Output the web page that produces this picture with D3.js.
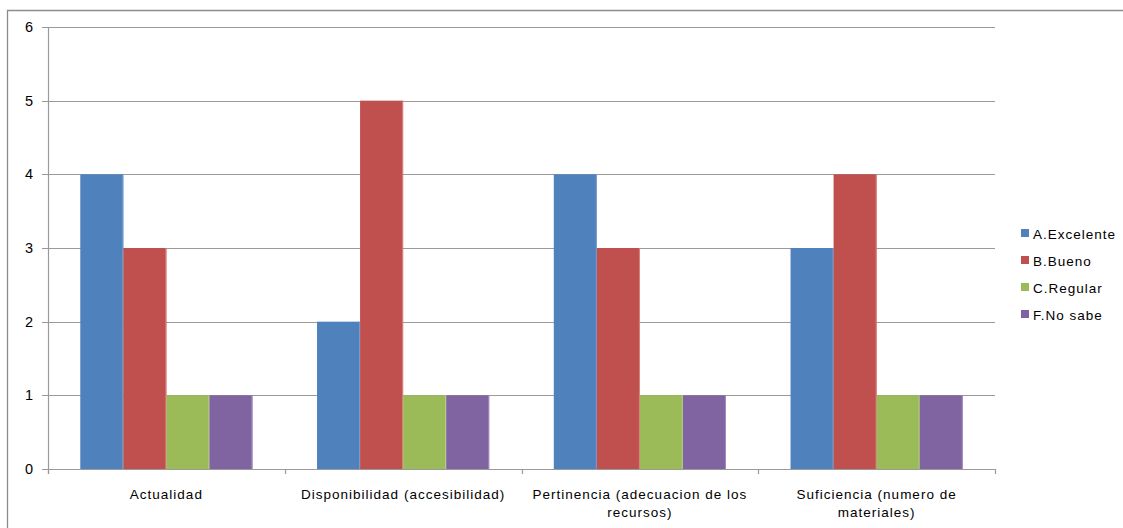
<!DOCTYPE html>
<html>
<head>
<meta charset="utf-8">
<script src="https://cdn.jsdelivr.net/npm/d3@7"></script>
<style>
  body { margin: 0; background: #fff; }
  svg { font-family: "Liberation Sans", Arial, sans-serif; }
</style>
</head>
<body>
<div id="chart"></div>
<script>
// data
var categories = [
  ['Actualidad'],
  ['Disponibilidad (accesibilidad)'],
  ['Pertinencia (adecuacion de los', 'recursos)'],
  ['Suficiencia (numero de', 'materiales)']
]
var seriesNames = ['A.Excelente', 'B.Bueno', 'C.Regular', 'F.No sabe']
var excelente = [4, 2, 4, 3]
var bueno = [3, 5, 3, 4]
var regular = [1, 1, 1, 1]
var noSabe = [1, 1, 1, 1]
var yTicks = [0, 1, 2, 3, 4, 5, 6]
var colors = ['#4F81BD', '#C0504D', '#9BBB59', '#8064A2']
var edges = ['#7A9FD0', '#D98481', '#B7D08A', '#A28DC0']

var values = [excelente, bueno, regular, noSabe]
var width = 1123
var height = 528
var plotL = 48, plotR = 995, plotT = 27, plotB = 469

var svg = d3.select('#chart').append('svg')
  .attr('width', width)
  .attr('height', height)

// outer frame
svg.append('path')
  .attr('d', 'M7.5,' + (height + 2) + 'V10.5H' + (width + 2))
  .attr('fill', 'none')
  .attr('stroke', '#8c8c8c')
  .attr('stroke-width', 1.3)

var x = d3.scaleBand().domain(d3.range(categories.length)).range([plotL, plotR])
var y = d3.scaleLinear().domain([0, 6]).range([plotB, plotT])

// gridlines
svg.append('g').selectAll('line').data(yTicks).enter().append('line')
  .attr('x1', plotL - 6).attr('x2', plotR)
  .attr('y1', d => Math.round(y(d)) + 0.5).attr('y2', d => Math.round(y(d)) + 0.5)
  .attr('stroke', '#9a9a9a')
  .attr('stroke-width', 1.2)

svg.append('g').selectAll('text').data(yTicks).enter().append('text')
  .attr('x', 33).attr('y', d => y(d) + 5)
  .attr('text-anchor', 'end')
  .attr('font-size', 14.5)
  .attr('fill', '#000')
  .text(d => d)

// bars: gap width 150% of a bar
var bw = x.bandwidth() / 5.5
var bars = svg.append('g')
values.forEach((ser, s) => {
  ser.forEach((v, i) => {
    var x0 = x(i) + bw * 0.75 + s * bw
    bars.append('rect')
      .attr('x', x0).attr('width', bw)
      .attr('y', y(v)).attr('height', y(0) - y(v))
      .attr('fill', colors[s])
    bars.append('line')
      .attr('x1', x0 + bw - 0.5).attr('x2', x0 + bw - 0.5)
      .attr('y1', y(v)).attr('y2', y(0))
      .attr('stroke', edges[s])
      .attr('stroke-width', 1)
  })
})

// axes
svg.append('line')
  .attr('x1', plotL + 0.5).attr('x2', plotL + 0.5)
  .attr('y1', plotT).attr('y2', plotB + 5)
  .attr('stroke', '#9a9a9a').attr('stroke-width', 1.2)
svg.append('line')
  .attr('x1', plotL).attr('x2', plotR)
  .attr('y1', Math.round(y(0)) + 0.5).attr('y2', Math.round(y(0)) + 0.5)
  .attr('stroke', '#9a9a9a').attr('stroke-width', 1.2)
svg.append('g').selectAll('line').data(d3.range(categories.length + 1)).enter().append('line')
  .attr('x1', d => Math.round(plotL + d * x.step()) + 0.5)
  .attr('x2', d => Math.round(plotL + d * x.step()) + 0.5)
  .attr('y1', plotB).attr('y2', plotB + 5)
  .attr('stroke', '#9a9a9a').attr('stroke-width', 1.2)

// category labels
categories.forEach((lines, i) => {
  var t = svg.append('text')
    .attr('x', x(i) + x.bandwidth() / 2)
    .attr('y', 499)
    .attr('text-anchor', 'middle')
    .attr('font-size', 13.5)
    .attr('letter-spacing', 1)
    .attr('fill', '#000')
  lines.forEach((l, j) => {
    t.append('tspan').attr('x', x(i) + x.bandwidth() / 2).attr('dy', j ? 18 : 0).text(l)
  })
})

// legend
var lg = svg.append('g').attr('transform', 'translate(1021,230)')
seriesNames.forEach((n, s) => {
  lg.append('rect')
    .attr('x', 0).attr('y', s * 27 - 1)
    .attr('width', 8).attr('height', 8)
    .attr('fill', colors[s])
  lg.append('text')
    .attr('x', 12).attr('y', s * 27 + 9)
    .attr('font-size', 13.5)
    .attr('letter-spacing', 1)
    .attr('fill', '#000')
    .text(n)
})
</script>
</body>
</html>
